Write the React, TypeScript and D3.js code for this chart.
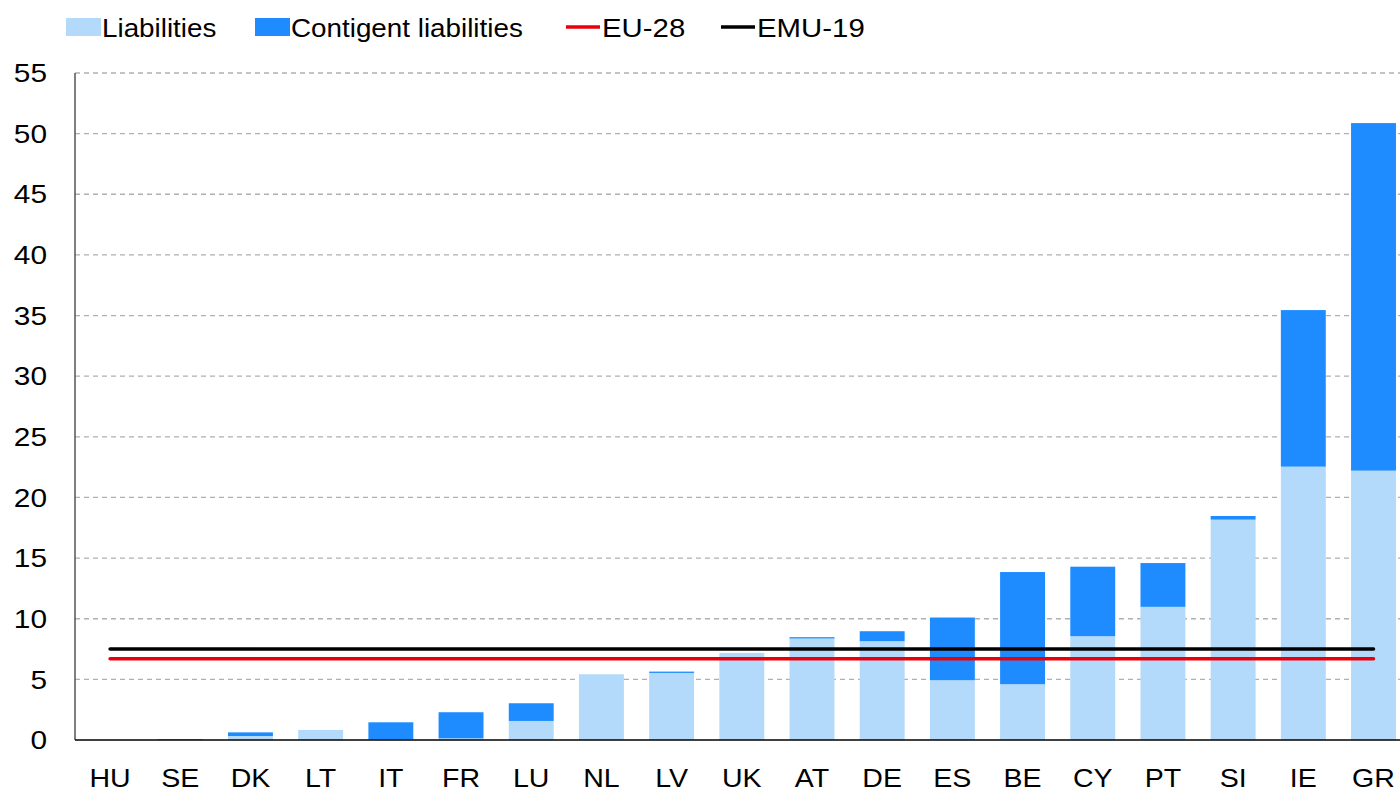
import * as d3 from "d3";
import { useEffect, useRef } from "react";

const countries = ["HU", "SE", "DK", "LT", "IT", "FR", "LU", "NL", "LV", "UK", "AT", "DE", "ES", "BE", "CY", "PT", "SI", "IE", "GR"];
const liabilities = [0, 0, 0.33, 0.83, 0.05, 0.14, 1.57, 5.42, 5.53, 7.18, 8.37, 8.15, 4.93, 4.6, 8.56, 10.98, 18.17, 22.54, 22.21];
const contingent = [0, 0.05, 0.3, 0, 1.41, 2.15, 1.46, 0, 0.11, 0, 0.11, 0.82, 5.17, 9.25, 5.73, 3.61, 0.3, 12.91, 28.66];
const eu28 = 6.7;
const emu19 = 7.5;
const yTicks = [0, 5, 10, 15, 20, 25, 30, 35, 40, 45, 50, 55];

const LIGHT = "#b3d9fb";
const DARK = "#1e8cff";
const FONT = "'Liberation Sans', Arial, sans-serif";

export default function App() {
    const ref = useRef<SVGSVGElement>(null);

    useEffect(() => {
        const width = 1400;
        const height = 795;
        const svg = d3.select(ref.current);
        svg.selectAll("*").remove();
        svg.attr("width", width).attr("height", height);

        const left = 75;
        const top = 73;
        const bottom = 740;

        const x = d3
            .scaleBand()
            .domain(countries)
            .range([left, 1408.6])
            .paddingInner(0.36)
            .paddingOuter(0.18);

        const y = d3.scaleLinear().domain([0, 55]).range([bottom, top]);

        // gridlines
        svg
            .append("g")
            .selectAll("line")
            .data(yTicks.filter((d) => d > 0))
            .enter()
            .append("line")
            .attr("x1", left)
            .attr("x2", width)
            .attr("y1", (d) => y(d))
            .attr("y2", (d) => y(d))
            .attr("stroke", "#b0b0b0")
            .attr("stroke-width", 1.3)
            .attr("stroke-dasharray", "5,4");

        // y tick labels (source font is a bit wide, so stretch horizontally)
        svg
            .append("g")
            .selectAll("text")
            .data(yTicks)
            .enter()
            .append("text")
            .attr("transform", (d) => `translate(47,${y(d)}) scale(1.17,1)`)
            .attr("dy", "0.36em")
            .attr("text-anchor", "end")
            .style("font-family", FONT)
            .style("font-size", "25.5px")
            .text((d) => d);

        // stacked bars
        const rows = countries.map((c, i) => ({ c, liab: liabilities[i], cont: contingent[i] }));
        const stacked = d3.stack<any>().keys(["liab", "cont"])(rows);
        const colors = [LIGHT, DARK];

        svg
            .selectAll(".layer")
            .data(stacked)
            .enter()
            .append("g")
            .attr("class", "layer")
            .attr("fill", (d, i) => colors[i])
            .selectAll("rect")
            .data((d) => d)
            .enter()
            .append("rect")
            .attr("x", (d: any) => x(d.data.c)!)
            .attr("width", x.bandwidth())
            .attr("y", (d) => y(d[1]))
            .attr("height", (d) => y(d[0]) - y(d[1]));

        // axes
        svg
            .append("line")
            .attr("x1", left)
            .attr("x2", left)
            .attr("y1", top)
            .attr("y2", bottom)
            .attr("stroke", "#555")
            .attr("stroke-width", 1.5);
        svg
            .append("line")
            .attr("x1", left)
            .attr("x2", width)
            .attr("y1", bottom)
            .attr("y2", bottom)
            .attr("stroke", "#000")
            .attr("stroke-width", 1.5);

        // reference lines
        const x0 = x(countries[0])! + x.bandwidth() / 2;
        const x1 = x(countries[countries.length - 1])! + x.bandwidth() / 2;
        [
            { v: eu28, color: "#e8000b" },
            { v: emu19, color: "#000" },
        ].forEach((l) => {
            svg
                .append("line")
                .attr("x1", x0)
                .attr("x2", x1)
                .attr("y1", y(l.v))
                .attr("y2", y(l.v))
                .attr("stroke", l.color)
                .attr("stroke-width", 3.5)
                .attr("stroke-linecap", "round");
        });

        // x labels
        svg
            .append("g")
            .selectAll("text")
            .data(countries)
            .enter()
            .append("text")
            .attr("transform", (d) => `translate(${x(d)! + x.bandwidth() / 2},787) scale(1.12,1)`)
            .attr("text-anchor", "middle")
            .style("font-family", FONT)
            .style("font-size", "25.5px")
            .text((d) => d);

        // legend
        const legend = svg.append("g").style("font-family", FONT).style("font-size", "26px");
        const boxes = [
            { label: "Liabilities", color: LIGHT, x: 66 },
            { label: "Contigent liabilities", color: DARK, x: 255 },
        ];
        boxes.forEach((b) => {
            legend
                .append("rect")
                .attr("x", b.x)
                .attr("y", 18)
                .attr("width", 35)
                .attr("height", 18)
                .attr("fill", b.color);
            legend
                .append("text")
                .attr("transform", `translate(${b.x + 36},37) scale(1.07,1)`)
                .text(b.label);
        });
        const lineItems = [
            { label: "EU-28", color: "#e8000b", x: 566 },
            { label: "EMU-19", color: "#000", x: 721 },
        ];
        lineItems.forEach((l) => {
            legend
                .append("line")
                .attr("x1", l.x)
                .attr("x2", l.x + 34)
                .attr("y1", 27)
                .attr("y2", 27)
                .attr("stroke", l.color)
                .attr("stroke-width", 3.5);
            legend
                .append("text")
                .attr("transform", `translate(${l.x + 36},37) scale(1.13,1)`)
                .text(l.label);
        });
    }, []);

    return (
        <div style={{ position: "absolute", left: 0, top: 0 }}>
            <svg ref={ref} style={{ display: "block", background: "#fff" }}></svg>
        </div>
    );
}
